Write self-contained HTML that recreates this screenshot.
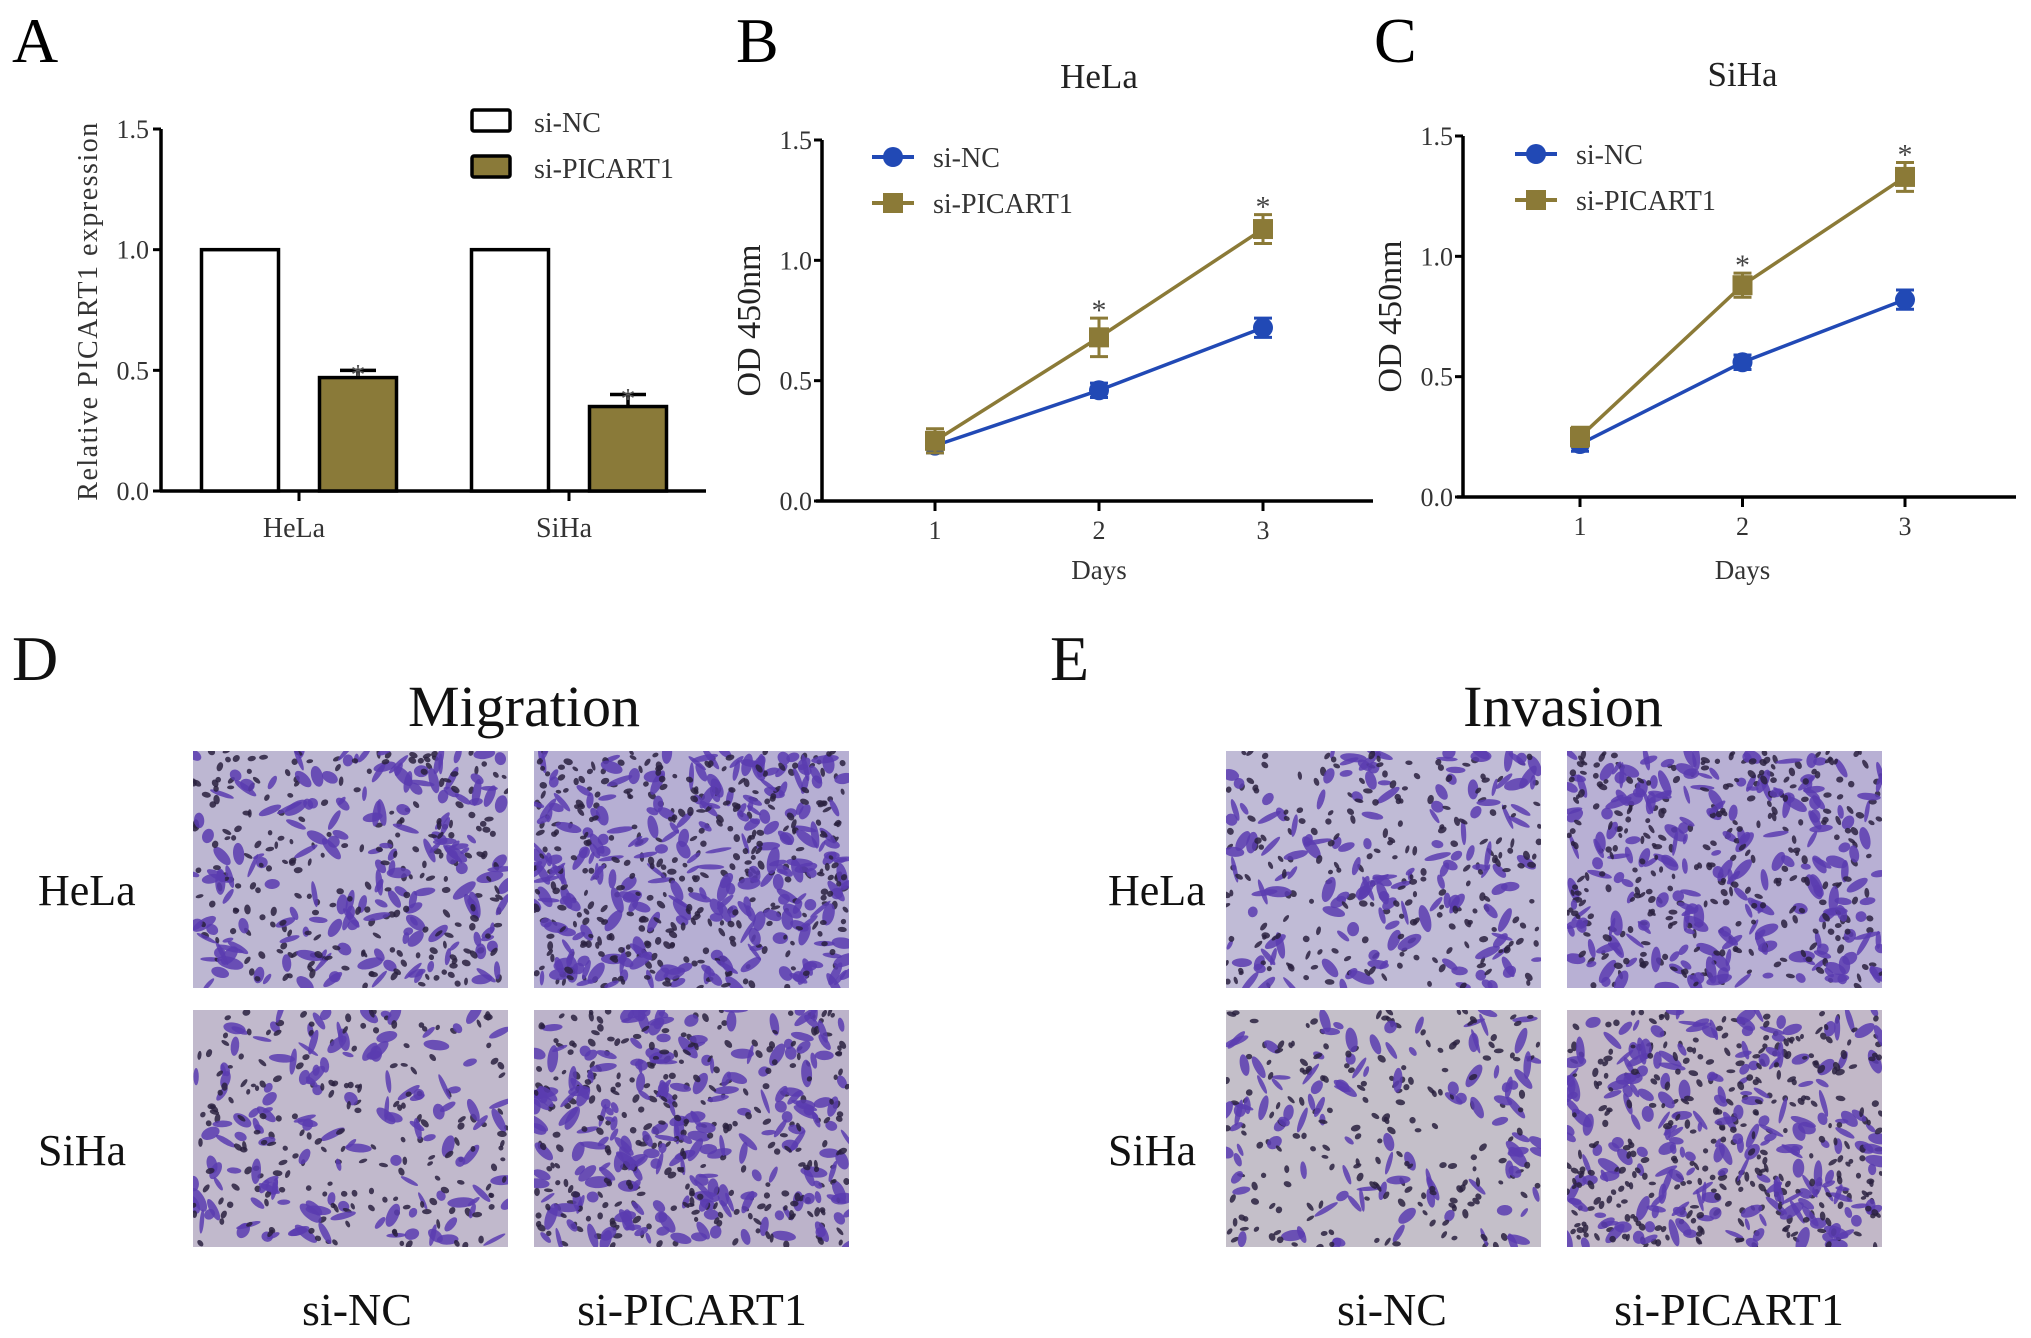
<!DOCTYPE html>
<html><head><meta charset="utf-8"><style>
html,body{margin:0;padding:0;background:#fff;}
svg{display:block;font-family:"Liberation Serif",serif;}
</style></head><body>
<svg id="fig" width="2031" height="1338" viewBox="0 0 2031 1338">
<g id="A"></g>
<g id="B"></g>
<g id="C"></g>
<g id="DE"></g>
</svg>
<script>
// Panel A data
const aCategories = ["HeLa","SiHa"];
const aNC = [1.0, 1.0];
const aPIC = [0.47, 0.35];
const aPICerr = [0.03, 0.05];
const aTicks = [0.0, 0.5, 1.0, 1.5];
// Panel B/C data
const days = [1,2,3];
const bNC = [0.23, 0.46, 0.72];
const bNCerr = [0.03, 0.03, 0.04];
const bPIC = [0.25, 0.68, 1.13];
const bPICerr = [0.05, 0.08, 0.06];
const cNC = [0.22, 0.56, 0.82];
const cNCerr = [0.03, 0.03, 0.04];
const cPIC = [0.25, 0.88, 1.33];
const cPICerr = [0.04, 0.05, 0.06];
const lineTicks = [0.0, 0.5, 1.0, 1.5];

const NS="http://www.w3.org/2000/svg";
function mk(parent,tag,attrs,text){const e=document.createElementNS(NS,tag);for(const k in attrs)e.setAttribute(k,attrs[k]);if(text!==undefined)e.textContent=text;parent.appendChild(e);return e;}
const BLUE="#2149b5", OLIVE="#8b7a37";

// ---------- Panel A ----------
(function(){
  const g=document.getElementById('A');
  const x0=161,x1=706,y0=491,y1=129;
  const ys=v=>y0-(v/1.5)*(y0-y1);
  let t=mk(g,'text',{x:12,y:62,'font-size':64});t.textContent='A';
  
  
  let ax=mk(g,'line',{x1:x0,y1:y1,x2:x0,y2:y0+1,stroke:'#000','stroke-width':3.5});
  
  
  ax=mk(g,'line',{x1:x0-1,y1:y0,x2:x1,y2:y0,stroke:'#000','stroke-width':3.5});
  
  
  aTicks.forEach(v=>{
    mk(g,'line',{x1:x0-8,y1:ys(v),x2:x0,y2:ys(v),stroke:'#000','stroke-width':3});
    const l=mk(g,'text',{x:x0-12,y:ys(v)+9,'font-size':26,'text-anchor':'end',fill:'#333'},v.toFixed(1));
    
    
  });
  const centers=[299,569], bw=77, off=59;
  aCategories.forEach((c,i)=>{
    const cx=centers[i];
    mk(g,'line',{x1:cx,y1:y0,x2:cx,y2:y0+10,stroke:'#000','stroke-width':3});
    const l=mk(g,'text',{x:cx-5,y:537,'font-size':28,'text-anchor':'middle',fill:'#333'},c);
    
    
    let b=mk(g,'rect',{x:cx-off-bw/2,y:ys(aNC[i]),width:bw,height:y0-ys(aNC[i]),fill:'#fff',stroke:'#000','stroke-width':3.5});
    
    
    const px=cx+off;
    mk(g,'line',{x1:px,y1:ys(aPIC[i]),x2:px,y2:ys(aPIC[i]+aPICerr[i]),stroke:'#000','stroke-width':3.5});
    mk(g,'line',{x1:px-18,y1:ys(aPIC[i]+aPICerr[i]),x2:px+18,y2:ys(aPIC[i]+aPICerr[i]),stroke:'#000','stroke-width':3.5});
    b=mk(g,'rect',{x:px-bw/2,y:ys(aPIC[i]),width:bw,height:y0-ys(aPIC[i]),fill:'#8a7a39',stroke:'#000','stroke-width':3.5});
    
    
    mk(g,'text',{x:px,y:ys(aPIC[i]+aPICerr[i])+14,'font-size':30,'text-anchor':'middle',fill:'#555'},'*');
  });
  t=mk(g,'text',{transform:'translate(97,311) rotate(-90)','font-size':28,'text-anchor':'middle',fill:'#333','letter-spacing':'1.5'},'Relative PICART1 expression');
  
  
  let lg=mk(g,'rect',{x:472,y:110,width:38,height:21,fill:'#fff',stroke:'#000','stroke-width':3.5,rx:2});
  
  
  mk(g,'text',{x:534,y:132,'font-size':28,fill:'#333'},'si-NC');
  lg=mk(g,'rect',{x:472,y:156,width:38,height:21,fill:'#8a7a39',stroke:'#000','stroke-width':3.5,rx:2});
  
  
  mk(g,'text',{x:534,y:178,'font-size':28,fill:'#333'},'si-PICART1');
})();

// ---------- Line panels ----------
function linePanel(id,letter,title,o,nc,ncE,pic,picE){
  const g=document.getElementById(id);
  const ys=v=>o.y0-(v/1.5)*(o.y0-o.y1);
  const xs=d=>o.tx1+(d-1)*(o.tx3-o.tx1)/2;
  let t=mk(g,'text',{x:o.lx,y:62,'font-size':64},letter);
  
  
  t=mk(g,'text',{x:(o.tx1+o.tx3)/2,y:o.ty,'font-size':35,'text-anchor':'middle',fill:'#222'},title);
  
  
  let ax=mk(g,'line',{x1:o.x0,y1:o.y1,x2:o.x0,y2:o.y0+1,stroke:'#000','stroke-width':3.5});
  
  
  ax=mk(g,'line',{x1:o.x0-6,y1:o.y0,x2:o.xe,y2:o.y0,stroke:'#000','stroke-width':3.5});
  
  
  lineTicks.forEach(v=>{
    mk(g,'line',{x1:o.x0-8,y1:ys(v),x2:o.x0,y2:ys(v),stroke:'#000','stroke-width':3});
    const l=mk(g,'text',{x:o.x0-10,y:ys(v)+9,'font-size':26,'text-anchor':'end',fill:'#333'},v.toFixed(1));
    
    
  });
  days.forEach(d=>{
    mk(g,'line',{x1:xs(d),y1:o.y0,x2:xs(d),y2:o.y0+10,stroke:'#000','stroke-width':3});
    const l=mk(g,'text',{x:xs(d),y:o.y0+38,'font-size':26,'text-anchor':'middle',fill:'#333'},String(d));
    
    
  });
  t=mk(g,'text',{x:(o.tx1+o.tx3)/2,y:579,'font-size':27,'text-anchor':'middle',fill:'#333'},'Days');
  
  
  t=mk(g,'text',{transform:`translate(${o.x0-62},${(o.y0+o.y1)/2}) rotate(-90)`,'font-size':34,'text-anchor':'middle',fill:'#222'},'OD 450nm');
  
  
  function series(vals,errs,col,shape,name,star){
    const pts=vals.map((v,i)=>xs(days[i])+','+ys(v)).join(' ');
    const pl=mk(g,'polyline',{points:pts,fill:'none',stroke:col,'stroke-width':3.5});
    
    
    vals.forEach((v,i)=>{
      const x=xs(days[i]);
      mk(g,'line',{x1:x,y1:ys(v-errs[i]),x2:x,y2:ys(v+errs[i]),stroke:col,'stroke-width':3});
      mk(g,'line',{x1:x-9,y1:ys(v-errs[i]),x2:x+9,y2:ys(v-errs[i]),stroke:col,'stroke-width':3});
      mk(g,'line',{x1:x-9,y1:ys(v+errs[i]),x2:x+9,y2:ys(v+errs[i]),stroke:col,'stroke-width':3});
      let m;
      if(shape==='c') m=mk(g,'circle',{cx:x,cy:ys(v),r:10,fill:col});
      else m=mk(g,'rect',{x:x-10,y:ys(v)-10,width:20,height:20,fill:col});
      
      
      if(star&&i>0) mk(g,'text',{x:x,y:ys(v+errs[i])+2,'font-size':30,'text-anchor':'middle',fill:'#444'},'*');
    });
  }
  series(nc,ncE,BLUE,'c','si-nc',false);
  series(pic,picE,OLIVE,'s','si-picart1',true);
  // legend
  mk(g,'line',{x1:o.lgx,y1:o.lgy,x2:o.lgx+42,y2:o.lgy,stroke:BLUE,'stroke-width':4});
  let lm=mk(g,'circle',{cx:o.lgx+21,cy:o.lgy,r:10,fill:BLUE});
  
  
  mk(g,'text',{x:o.lgx+61,y:o.lgy+10,'font-size':28,fill:'#333'},'si-NC');
  mk(g,'line',{x1:o.lgx,y1:o.lgy+46,x2:o.lgx+42,y2:o.lgy+46,stroke:OLIVE,'stroke-width':4});
  lm=mk(g,'rect',{x:o.lgx+11,y:o.lgy+36,width:20,height:20,fill:OLIVE});
  
  
  mk(g,'text',{x:o.lgx+61,y:o.lgy+56,'font-size':28,fill:'#333'},'si-PICART1');
}
linePanel('B','B','HeLa',{x0:822,y0:501,y1:140,xe:1373,tx1:935,tx3:1263,lx:736,ty:88,lgx:872,lgy:157},bNC,bNCerr,bPIC,bPICerr);
linePanel('C','C','SiHa',{x0:1463,y0:497,y1:136,xe:2016,tx1:1580,tx3:1905,lx:1374,ty:86,lgx:1515,lgy:154},cNC,cNCerr,cPIC,cPICerr);

// ---------- Panels D / E micrographs ----------
(function(){
  const g=document.getElementById('DE');
  let seed=12345;const rnd=()=>{seed=(seed*1103515245+12345)%2147483648;return seed/2147483648;};
  function label(x,y,s,txt,name,anchor){const t=mk(g,'text',{x:x,y:y,'font-size':s,'text-anchor':anchor||'start',fill:'#111'},txt);
    
    }
  label(12,680,64,'D','panel-label-d');
  label(1050,680,64,'E','panel-label-e');
  label(524,726,58,'Migration','migration-title','middle');
  label(1563,726,58,'Invasion','invasion-title','middle');
  label(38,905,44,'HeLa','row-label-hela-d');
  label(38,1165,44,'SiHa','row-label-siha-d');
  label(1108,905,44,'HeLa','row-label-hela-e');
  label(1108,1165,44,'SiHa','row-label-siha-e');
  label(357,1325,46,'si-NC','col-label-si-nc-d','middle');
  label(692,1325,46,'si-PICART1','col-label-si-picart1-d','middle');
  label(1392,1325,46,'si-NC','col-label-si-nc-e','middle');
  label(1729,1325,46,'si-PICART1','col-label-si-picart1-e','middle');
  const cols=[[193,534],[1226,1567]], rows=[751,1010], W=315, H=237;
  const bgs=[["#bdb7d2","#b6afd3","#c1b9cc","#bcb3ca"],["#c0bbd6","#b8b0d4","#c4bfc9","#c2b8c8"]];
  const dens=[[420,620,330,520],[360,520,300,560]];
  const names=['migration','invasion'];
  let k=0;
  for(let p=0;p<2;p++)for(let r=0;r<2;r++)for(let c=0;c<2;c++){
    const x=cols[p][c],y=rows[r];
    const cp=mk(g,'clipPath',{id:'cp'+k});mk(cp,'rect',{x:x,y:y,width:W,height:H});
    const gi=mk(g,'g',{'clip-path':`url(#cp${k})`});
    
    
    mk(gi,'rect',{x:x,y:y,width:W,height:H,fill:bgs[p][r*2+c]});
    const n=dens[p][r*2+c];
    for(let i=0;i<n;i++){
      const cx=x+rnd()*W,cy=y+rnd()*H,a=rnd()*180;
      const big=rnd()<0.4;
      const rx=big?5+rnd()*9:2.5+rnd()*2.5, ry=big?2+rnd()*4:1.8+rnd()*1.5;
      const col=big?'#5a3cb0':'#2a2140';
      mk(gi,'ellipse',{cx:cx,cy:cy,rx:rx,ry:ry,fill:col,'fill-opacity':big?0.85:0.85,transform:`rotate(${a} ${cx} ${cy})`});
    }
    k++;
  }
})();
</script>
</body></html>
